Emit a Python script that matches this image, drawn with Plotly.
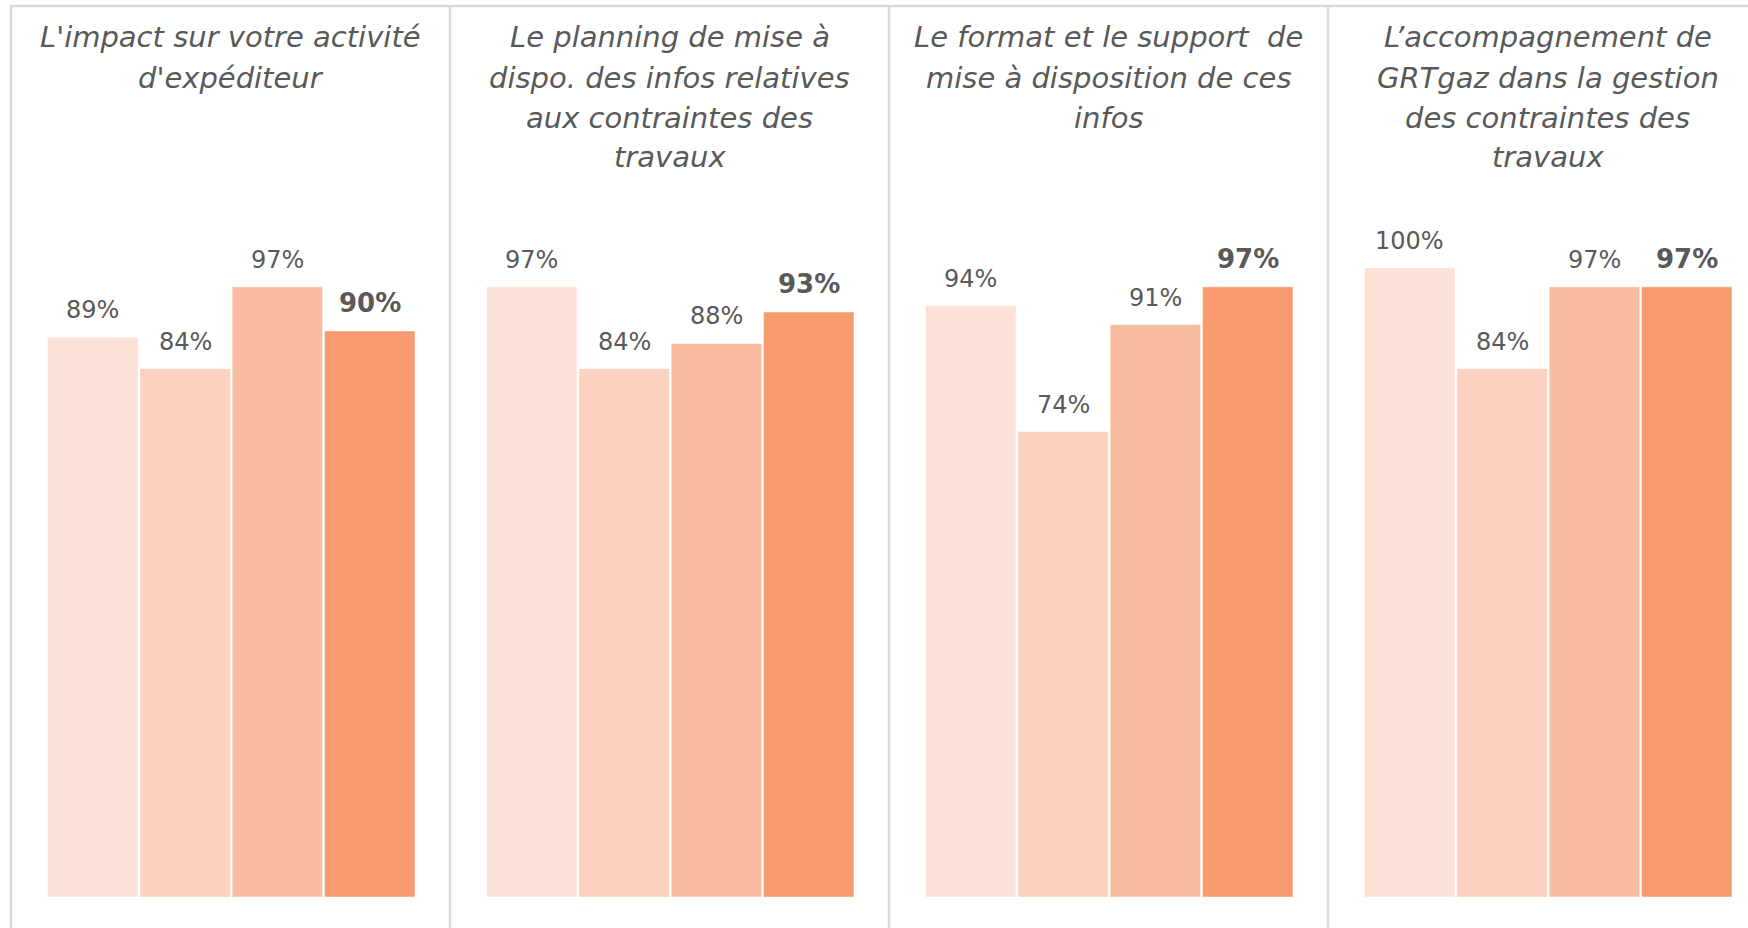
import plotly.graph_objects as go

titles = [
    ["L'impact sur votre activité", "d'expéditeur"],
    ["Le planning de mise à", "dispo. des infos relatives", "aux contraintes des", "travaux"],
    ["Le format et le support  de", "mise à disposition de ces", "infos"],
    ["L’accompagnement de", "GRTgaz dans la gestion", "des contraintes des", "travaux"],
]
categories = ["S1", "S2", "S3", "S4"]
panel_values = [
    [89, 84, 97, 90],
    [97, 84, 88, 93],
    [94, 74, 91, 97],
    [100, 84, 97, 97],
]
bar_colors = ["#FCE1D6", "#FCD1BF", "#F8BCA0", "#F79A6E"]

W, H = 1748, 928
FONT = "DejaVu Sans"
TXT = "#595959"
panel_left0, panel_w = 11, 439
bar_left_off, bar_right_off = 35.6, 404.9
y_bottom_px, y_max = 897, 110
px_per_unit = 6.29
y_top_px = y_bottom_px - y_max * px_per_unit
title_top_px, title_pitch = 18.5, 40

fig = go.Figure()
annotations = []
shapes = []
for i, (lines, vals) in enumerate(zip(titles, panel_values)):
    n = "" if i == 0 else str(i + 1)
    L = panel_left0 + panel_w * i
    fig.add_trace(go.Bar(
        x=categories, y=vals, xaxis="x" + n, yaxis="y",
        marker=dict(color=bar_colors, line=dict(color="white", width=0.5)),
        hoverinfo="skip", showlegend=False,
    ))
    fig.layout["xaxis" + n] = dict(
        domain=[(L + bar_left_off) / W, (L + bar_right_off) / W],
        showticklabels=False, showgrid=False, zeroline=False, showline=False,
        ticks="", anchor="y", fixedrange=True,
    )
    for j, (c, v) in enumerate(zip(categories, vals)):
        bold = j == len(vals) - 1
        annotations.append(dict(
            x=c, y=v, xref="x" + n, yref="y", text=f"{v}%",
            showarrow=False, yanchor="bottom", yshift=11,
            font=dict(family=FONT, size=26 if bold else 24, color=TXT,
                      weight="bold" if bold else "normal"),
        ))
    for k, line in enumerate(lines):
        annotations.append(dict(
            x=(L + panel_w / 2) / W, y=1 - (title_top_px + k * title_pitch) / H,
            xref="paper", yref="paper",
            text=line, showarrow=False, xanchor="center", yanchor="top",
            font=dict(family=FONT, size=29, color=TXT, style="italic"),
        ))
    shapes.append(dict(type="line", xref="paper", yref="paper",
                       x0=L / W, x1=L / W, y0=0, y1=1 - 5 / H,
                       line=dict(color="#D9D9D9", width=2.5)))
shapes.append(dict(type="line", xref="paper", yref="paper",
                   x0=(panel_left0 - 1) / W, x1=1, y0=1 - 6 / H, y1=1 - 6 / H,
                   line=dict(color="#D9D9D9", width=2.5)))

fig.update_layout(
    width=W, height=H, autosize=False,
    margin=dict(l=0, r=0, t=0, b=0),
    paper_bgcolor="white", plot_bgcolor="white",
    bargap=0.02, hovermode=False,
    yaxis=dict(domain=[(H - y_bottom_px) / H, (H - y_top_px) / H],
               range=[0, y_max], visible=False, fixedrange=True),
    annotations=annotations, shapes=shapes,
)
fig.write_html("out.html", config={"displayModeBar": False, "staticPlot": True},
               post_script="document.body.style.margin='0';document.body.style.overflow='hidden';")
